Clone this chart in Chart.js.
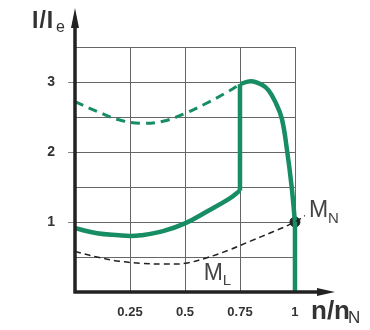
<!DOCTYPE html>
<html>
<head>
<meta charset="utf-8">
<script src="https://cdn.jsdelivr.net/npm/chart.js@4"></script>
<style>
  body { margin: 0; background: #fff; }
  #wrap { width: 370px; height: 330px; }
</style>
</head>
<body>
<div id="wrap"><canvas id="chart" width="370" height="330"></canvas></div>
<script>
// tick labels and grid steps
const xTicks = [0.25, 0.5, 0.75, 1];
const yTicks = [1, 2, 3];
const xGrid = [0, 0.25, 0.5, 0.75, 1];
const yGrid = [0, 0.5, 1, 1.5, 2, 2.5, 3, 3.5];

// star start current (solid, lower part)
const starX = [0, 0.1, 0.2, 0.25, 0.3, 0.4, 0.5, 0.6, 0.7, 0.75];
const starY = [0.91, 0.84, 0.81, 0.80, 0.81, 0.87, 0.98, 1.15, 1.33, 1.45];
// switch-over jump
const switchX = [0.75, 0.75];
const switchY = [1.45, 2.97];
// delta current after switching
const deltaX = [0.75, 0.8, 0.85, 0.88, 0.91, 0.94, 0.965, 0.985, 1.0];
const deltaY = [2.97, 3.01, 2.96, 2.88, 2.72, 2.48, 2.0, 1.5, 1.0];
const endX = [1.0, 1.0];
const endY = [1.0, 0];
// direct-on-line current (dashed green)
const dolX = [0, 0.1, 0.2, 0.3, 0.4, 0.5, 0.6, 0.7, 0.75];
const dolY = [2.72, 2.58, 2.46, 2.41, 2.44, 2.55, 2.70, 2.87, 2.97];
// load torque M_L (dashed black)
const loadX = [0, 0.1, 0.2, 0.3, 0.4, 0.5, 0.6, 0.7, 0.8, 0.9, 1.0, 1.045];
const loadY = [0.58, 0.50, 0.44, 0.41, 0.40, 0.41, 0.49, 0.60, 0.73, 0.86, 1.0, 1.09];
// rated point M_N
const ratedX = [1.0];
const ratedY = [1.0];

const green = '#178d63';
const pts = (xs, ys) => xs.map((x, i) => ({ x: x, y: ys[i] }));

// stop chart.js from reserving room for half tick labels
const noPad = s => { s.paddingTop = 0; s.paddingBottom = 0; s.paddingLeft = 0; s.paddingRight = 0; };

const sketch = {
  id: 'sketch',
  beforeDatasetsDraw(chart) {
    const ctx = chart.ctx, x = chart.scales.x, y = chart.scales.y;
    ctx.save();
    ctx.strokeStyle = '#666';
    ctx.lineWidth = 1;
    xGrid.forEach(v => {
      const px = Math.round(x.getPixelForValue(v)) + 0.5;
      ctx.beginPath();
      ctx.moveTo(px, y.getPixelForValue(0));
      ctx.lineTo(px, y.getPixelForValue(3.5));
      ctx.stroke();
    });
    yGrid.forEach(v => {
      const py = Math.round(y.getPixelForValue(v)) + 0.5;
      ctx.beginPath();
      ctx.moveTo(x.getPixelForValue(0), py);
      ctx.lineTo(x.getPixelForValue(1), py);
      ctx.stroke();
    });
    // small tick marks left of the y axis
    ctx.strokeStyle = '#888';
    yTicks.forEach(v => {
      const py = Math.round(y.getPixelForValue(v)) + 0.5;
      ctx.beginPath();
      ctx.moveTo(x.getPixelForValue(0) - 7, py);
      ctx.lineTo(x.getPixelForValue(0), py);
      ctx.stroke();
    });
    ctx.restore();
  },
  afterDatasetsDraw(chart) {
    const ctx = chart.ctx, x = chart.scales.x, y = chart.scales.y;
    const x0 = x.getPixelForValue(0), y0 = y.getPixelForValue(0);
    const a = chart.chartArea;
    ctx.save();
    ctx.strokeStyle = '#222';
    ctx.fillStyle = '#222';
    ctx.lineWidth = 3.5;
    // axes
    ctx.beginPath();
    ctx.moveTo(x0, y0 + 1.5);
    ctx.lineTo(x0, a.top + 14);
    ctx.moveTo(x0 - 1.5, y0);
    ctx.lineTo(a.right - 14, y0);
    ctx.stroke();
    // arrow heads
    ctx.beginPath();
    ctx.moveTo(x0, a.top);
    ctx.lineTo(x0 - 4, a.top + 20);
    ctx.lineTo(x0 + 4, a.top + 20);
    ctx.closePath();
    ctx.fill();
    ctx.beginPath();
    ctx.moveTo(a.right, y0);
    ctx.lineTo(a.right - 18, y0 - 4);
    ctx.lineTo(a.right - 18, y0 + 4);
    ctx.closePath();
    ctx.fill();

    // axis titles
    ctx.fillStyle = '#333';
    ctx.textBaseline = 'alphabetic';
    ctx.font = 'bold 23px "Liberation Sans", Arial, sans-serif';
    ctx.letterSpacing = '1px';
    ctx.fillText('I/I', 32, 28);
    ctx.letterSpacing = '0px';
    ctx.font = '16px "Liberation Sans", Arial, sans-serif';
    ctx.fillText('e', 56, 32);
    ctx.font = 'bold 26px "Liberation Sans", Arial, sans-serif';
    ctx.fillText('n/n', 311, 319);
    ctx.font = '17px "Liberation Sans", Arial, sans-serif';
    ctx.fillText('N', 348, 323);

    // curve labels
    ctx.fillStyle = '#444';
    const mx = x.getPixelForValue(1), my = y.getPixelForValue(1);
    ctx.font = '23px "Liberation Sans", Arial, sans-serif';
    ctx.fillText('M', mx + 14, my - 5);
    ctx.font = '15px "Liberation Sans", Arial, sans-serif';
    ctx.fillText('N', mx + 33, my + 1);
    const lx = x.getPixelForValue(0.585), ly = y.getPixelForValue(0.17);
    ctx.font = '23px "Liberation Sans", Arial, sans-serif';
    ctx.fillText('M', lx, ly);
    ctx.font = '15px "Liberation Sans", Arial, sans-serif';
    ctx.fillText('L', lx + 19, ly + 5);
    ctx.restore();
  }
};

const line = (xs, ys, color, width, dash) => ({
  data: pts(xs, ys),
  showLine: true,
  borderColor: color,
  borderWidth: width,
  borderDash: dash,
  pointRadius: 0,
  tension: 0.4,
  fill: false
});

new Chart(document.getElementById('chart'), {
  type: 'scatter',
  data: {
    datasets: [
      line(loadX, loadY, '#222', 1.5, [6, 4]),
      line(dolX, dolY, green, 3, [9, 6]),
      line(starX, starY, green, 4.5, []),
      line(switchX, switchY, green, 4.5, []),
      line(deltaX, deltaY, green, 4.5, []),
      line(endX, endY, green, 4.5, []),
      {
        data: pts(ratedX, ratedY),
        pointRadius: 5,
        pointBackgroundColor: '#222',
        pointBorderColor: '#222'
      }
    ]
  },
  options: {
    responsive: false,
    animation: false,
    layout: { padding: { left: 0, right: 35, top: 8, bottom: 0 } },
    plugins: { legend: { display: false }, tooltip: { enabled: false } },
    scales: {
      x: {
        type: 'linear',
        min: 0,
        max: 1.182,
        afterBuildTicks: s => { s.ticks = xTicks.map(v => ({ value: v })); },
        afterFit: s => { s.height = 38; noPad(s); },
        grid: { display: false, drawTicks: false },
        border: { display: false },
        ticks: {
          padding: 13,
          color: '#333',
          font: { family: '"Liberation Sans", Arial, sans-serif', size: 13, weight: 'bold' },
          callback: v => String(v)
        }
      },
      y: {
        type: 'linear',
        min: 0,
        max: 4.057,
        afterBuildTicks: s => { s.ticks = yTicks.map(v => ({ value: v })); },
        afterFit: s => { s.width = 75; noPad(s); },
        grid: { display: false, drawTicks: false },
        border: { display: false },
        ticks: {
          padding: 20,
          color: '#333',
          font: { family: '"Liberation Sans", Arial, sans-serif', size: 14, weight: 'bold' },
          callback: v => String(v)
        }
      }
    }
  },
  plugins: [sketch]
});
</script>
</body>
</html>
